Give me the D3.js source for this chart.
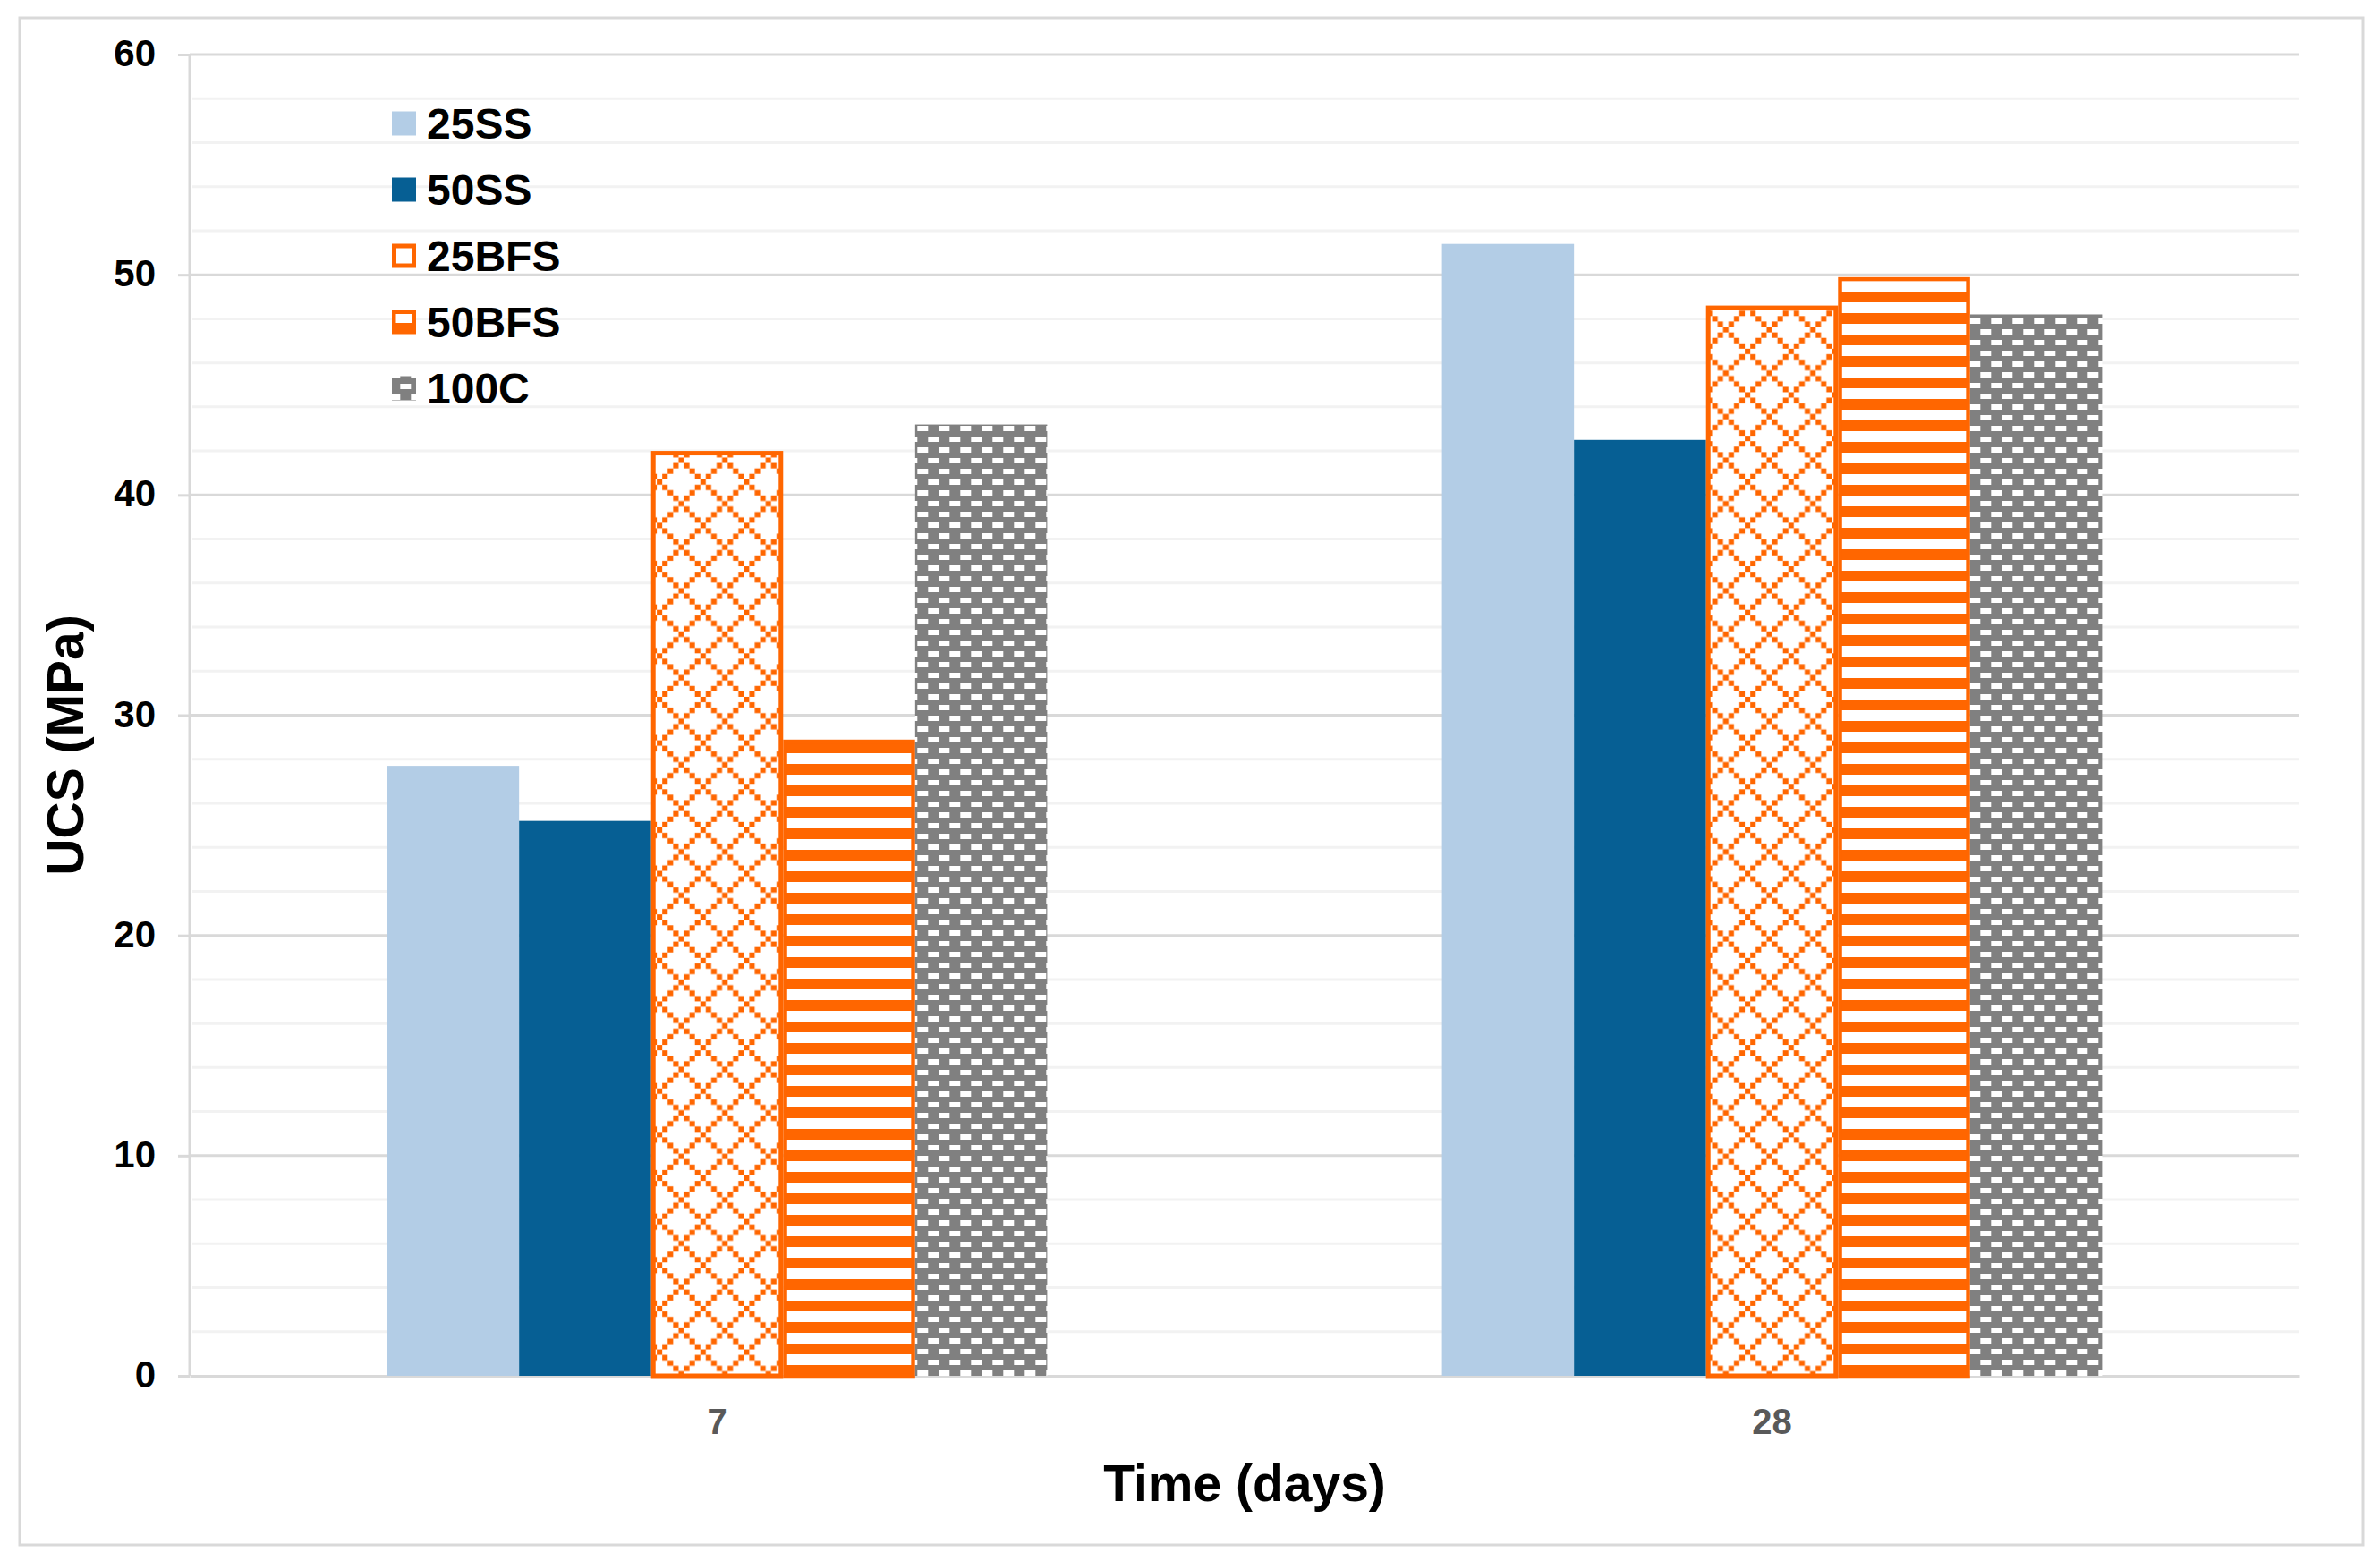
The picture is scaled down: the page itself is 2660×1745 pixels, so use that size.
<!DOCTYPE html>
<html>
<head>
<meta charset="utf-8">
<script src="https://cdn.jsdelivr.net/npm/d3@7"></script>
<style>
  body { margin: 0; background: #fff; }
  text { font-family: "Liberation Sans", Arial, sans-serif; font-weight: bold; }
</style>
</head>
<body>
<div id="chart"></div>
<script>
// data
const categories = ["7", "28"];
const seriesNames = ["25SS", "50SS", "25BFS", "50BFS", "100C"];
const v25SS = [27.7, 51.4];
const v50SS = [25.2, 42.5];
const v25BFS = [41.9, 48.5];
const v50BFS = [28.8, 49.8];
const v100C = [43.2, 48.2];
const yTicks = [0, 10, 20, 30, 40, 50, 60];
const yMinorTicks = d3.range(0, 61, 2);

const seriesValues = [v25SS, v50SS, v25BFS, v50BFS, v100C];

// margin convention
const svgWidth = 2660,
    svgHeight = 1745,
    margin = { top: 61, right: 90, bottom: 207, left: 212 },
    width = svgWidth - margin.left - margin.right,
    height = svgHeight - margin.top - margin.bottom;

const orange = "#ff6600", grey = "#808080";

let svg = d3.select("#chart").append("svg")
    .attr("width", svgWidth)
    .attr("height", svgHeight);

// patterns
let defs = svg.append("defs");

// outlined diamond (8x8 bitmap, ~6px cells)
const cell = 6.08;
let diamond = defs.append("pattern")
    .attr("id", "pat-diamond")
    .attr("patternUnits", "userSpaceOnUse")
    .attr("x", 35.7).attr("y", 37)
    .attr("width", cell * 8).attr("height", cell * 8);
diamond.append("rect").attr("width", cell * 8).attr("height", cell * 8).attr("fill", "#fff");
for (let i = 0; i < 8; i++) {
    for (let j = 0; j < 8; j++) {
        if ((i - j + 8) % 8 == 0 || (i + j) % 8 == 0) {
            diamond.append("rect")
                .attr("x", i * cell).attr("y", j * cell)
                .attr("width", cell).attr("height", cell)
                .attr("fill", orange);
        }
    }
}

// horizontal stripes
let stripes = defs.append("pattern")
    .attr("id", "pat-stripes")
    .attr("patternUnits", "userSpaceOnUse")
    .attr("x", 0).attr("y", 1)
    .attr("width", 24).attr("height", 24);
stripes.append("rect").attr("width", 24).attr("height", 24).attr("fill", "#fff");
stripes.append("rect").attr("width", 24).attr("height", 12).attr("fill", orange);

// grey with staggered white dashes
let dashes = defs.append("pattern")
    .attr("id", "pat-dashes")
    .attr("patternUnits", "userSpaceOnUse")
    .attr("x", 21.3).attr("y", 7)
    .attr("width", 24).attr("height", 24);
dashes.append("rect").attr("width", 24).attr("height", 24).attr("fill", grey);
dashes.append("rect").attr("x", 0).attr("y", 0).attr("width", 12).attr("height", 6).attr("fill", "#fff");
dashes.append("rect").attr("x", 12).attr("y", 12).attr("width", 12).attr("height", 6).attr("fill", "#fff");

const styles = {
    "25SS": { fill: "#b3cde6", stroke: "none", sw: 0, legendFill: "#b3cde6" },
    "50SS": { fill: "#065f94", stroke: "none", sw: 0, legendFill: "#065f94" },
    "25BFS": { fill: "url(#pat-diamond)", stroke: orange, sw: 5, legendFill: "#fff" },
    "50BFS": { fill: "url(#pat-stripes)", stroke: orange, sw: 4.5, legendFill: "url(#pat-stripes)" },
    "100C": { fill: "url(#pat-dashes)", stroke: "none", sw: 0, legendFill: "url(#pat-dashes)" }
};

// outer frame
svg.append("rect")
    .attr("x", 22).attr("y", 20)
    .attr("width", 2619).attr("height", 1707)
    .attr("fill", "none")
    .attr("stroke", "#d9d9d9")
    .attr("stroke-width", 3);

let g = svg.append("g")
    .attr("transform", `translate(${margin.left}, ${margin.top})`);

// scales
let x0 = d3.scaleBand()
    .domain(categories)
    .range([0, width]);
let x1 = d3.scaleBand()
    .domain(seriesNames)
    .range([0, x0.bandwidth()])
    .paddingOuter(1.495);
let y = d3.scaleLinear()
    .domain([0, 60])
    .range([height, 0]);

// gridlines
g.append("g").selectAll("line")
    .data(yMinorTicks.filter((d) => d % 10 != 0))
    .join("line")
    .attr("x1", 3).attr("x2", width)
    .attr("y1", (d) => y(d)).attr("y2", (d) => y(d))
    .attr("stroke", "#f2f2f2")
    .attr("stroke-width", 3);
g.append("g").selectAll("line")
    .data(yTicks.filter((d) => d > 0))
    .join("line")
    .attr("x1", 0).attr("x2", width)
    .attr("y1", (d) => y(d)).attr("y2", (d) => y(d))
    .attr("stroke", "#d9d9d9")
    .attr("stroke-width", 3);

// y axis
let yAxis = g.append("g")
    .call(d3.axisLeft(y).tickValues(yTicks).tickSize(13).tickPadding(25));
yAxis.selectAll("path, line").attr("stroke", "#d9d9d9").attr("stroke-width", 3);
yAxis.select(".domain").attr("d", `M0,${height}V0`);
yAxis.selectAll("text")
    .attr("font-size", 42)
    .attr("fill", "#000")
    .attr("dy", "0.3em");

// x axis
let xAxis = g.append("g")
    .attr("transform", `translate(0, ${height})`)
    .call(d3.axisBottom(x0).tickSize(0).tickPadding(37));
xAxis.select(".domain").attr("stroke", "#d9d9d9").attr("stroke-width", 3);
xAxis.selectAll("text")
    .attr("font-size", 40)
    .attr("fill", "#595959");

// bars
let rows = [];
categories.forEach((c, ci) => {
    seriesNames.forEach((s, si) => {
        rows.push({ cat: c, name: s, value: seriesValues[si][ci] });
    });
});

g.append("g").selectAll("rect")
    .data(rows)
    .join("rect")
    .attr("x", (d) => x0(d.cat) + x1(d.name) + styles[d.name].sw / 2)
    .attr("y", (d) => y(d.value))
    .attr("width", (d) => x1.bandwidth() - styles[d.name].sw)
    .attr("height", (d) => height - y(d.value))
    .attr("fill", (d) => styles[d.name].fill)
    .attr("stroke", (d) => styles[d.name].stroke)
    .attr("stroke-width", (d) => styles[d.name].sw);

// axis titles
svg.append("text")
    .attr("x", margin.left + width / 2)
    .attr("y", 1678)
    .attr("text-anchor", "middle")
    .attr("font-size", 57)
    .attr("fill", "#000")
    .text("Time (days)");
svg.append("text")
    .attr("transform", "translate(93, 833) rotate(-90)")
    .attr("text-anchor", "middle")
    .attr("font-size", 57)
    .attr("fill", "#000")
    .text("UCS (MPa)");

// legend
let legend = svg.append("g")
    .selectAll("g")
    .data(seriesNames)
    .join("g")
    .attr("transform", (d, i) => `translate(438, ${138 + i * 74})`);
legend.append("rect")
    .attr("x", (d) => styles[d].sw / 2)
    .attr("y", (d) => -13.5 + styles[d].sw / 2)
    .attr("width", (d) => 27 - styles[d].sw)
    .attr("height", (d) => 27 - styles[d].sw)
    .attr("fill", (d) => styles[d].legendFill)
    .attr("stroke", (d) => styles[d].stroke)
    .attr("stroke-width", (d) => styles[d].sw);
legend.append("text")
    .attr("x", 39)
    .attr("dy", "0.35em")
    .attr("font-size", 48)
    .attr("fill", "#000")
    .text((d) => d);
</script>
</body>
</html>
